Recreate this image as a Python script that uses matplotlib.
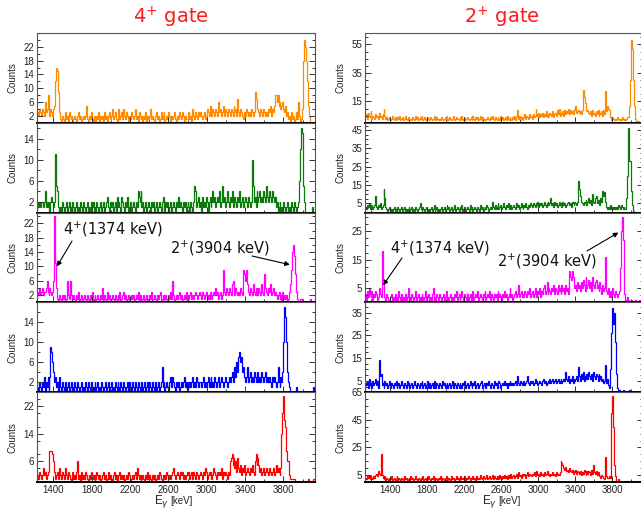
import numpy as np
import matplotlib
matplotlib.use('Agg')
import matplotlib.pyplot as plt
from matplotlib.ticker import MultipleLocator, FixedLocator

# ---------------- data (counts per 10 keV bin) ----------------
left_start, right_start, e_stop, bin_width = 1230, 1130, 4130, 10

L_orange = [3,2,4,3,2,4,3,2,6,3, 4,8,3,2,4,3,2,4,5,12, 16,15,9,3,1,0,2,1,0,3,
            1,2,0,3,2,1,2,0,1,2, 1,0,2,3,1,2,0,1,2,1, 2,5,1,0,2,1,3,1,0,2,
            1,0,2,1,3,0,2,1,2,0, 3,1,2,0,2,3,1,2,4,1, 2,3,1,0,2,4,1,2,3,1,
            4,2,1,3,2,0,2,1,3,2, 1,2,4,1,2,0,3,2,1,2, 0,2,1,3,0,2,1,2,4,1,
            2,1,0,2,3,1,2,0,1,3, 1,2,3,0,1,2,1,3,2,0, 2,1,2,3,1,0,2,1,3,2,
            1,3,2,0,2,1,1,2,3,1, 2,0,4,2,1,3,2,1,3,2, 3,2,1,2,3,1,2,4,3,2,
            5,3,2,4,3,2,4,3,2,6, 3,4,2,3,5,2,4,3,2,4, 3,2,4,3,2,5,3,4,2,7,
            3,2,4,3,2,1,3,2,4,3, 2,3,2,4,3,2,3,9,7,6, 4,3,2,4,3,2,4,3,2,3,
            2,4,3,5,2,4,3,5,8,8, 6,8,5,6,4,5,6,4,3,5, 2,3,1,2,0,3,1,2,0,1,
            3,1,6,2,0,1,4,9,18,24, 22,18,12,5,2,0,0,0,0,0]
L_green = [2,1,2,1,2,2,1,2,4,1, 2,1,2,0,2,3,2,1,2,11, 5,4,1,0,1,0,2,1,0,1,
           2,0,1,2,0,1,0,2,1,0, 1,2,0,1,0,2,1,0,2,1, 0,1,2,0,1,0,2,1,2,0,
           1,0,2,1,0,1,2,0,1,2, 0,1,2,3,1,0,2,1,2,0, 1,2,0,3,1,2,1,0,3,2,
           1,0,2,1,3,0,1,2,0,1, 2,1,0,2,1,4,3,2,4,1, 2,0,1,2,0,1,2,1,0,2,
           1,2,0,1,2,0,1,2,1,0, 2,3,1,0,2,1,2,0,1,2, 0,1,2,1,0,2,1,3,1,2,
           1,0,2,1,2,0,1,2,1,0, 2,1,0,2,5,4,1,2,3,1, 2,0,3,1,2,1,3,2,0,2,
           3,1,2,4,2,3,1,2,3,2, 4,1,2,5,2,3,1,2,4,2, 1,3,2,4,1,2,3,2,1,3,
           2,4,1,2,3,1,2,3,2,1, 3,2,1,2,10,5,2,3,1,4, 2,3,4,2,3,2,4,3,2,5,
           3,2,4,3,2,4,3,2,3,1, 2,0,1,2,0,1,0,2,1,0, 1,2,0,1,0,2,1,0,2,1,
           0,1,2,6,12,16,15,11,5,2, 0,0,0,0,0,0,0,1,0,0]
L_magenta = [3,2,4,2,3,4,2,3,3,4, 6,3,2,4,3,2,3,6,24,11, 4,1,0,2,1,0,2,1,2,0,
             1,6,2,1,6,2,0,1,2,1, 0,2,1,3,0,1,2,0,1,2, 1,0,2,1,0,2,1,3,0,1,
             2,0,1,2,1,0,2,1,4,0, 2,1,0,3,1,2,0,1,2,1, 0,2,1,0,2,1,3,0,1,2,
             3,1,2,0,1,2,0,1,2,1, 2,0,1,2,1,3,0,2,1,0, 1,2,0,1,2,0,1,2,1,3,
             0,1,2,1,0,2,1,2,3,0, 1,2,0,1,2,1,0,2,1,3, 1,6,2,0,1,2,1,2,3,1,
             2,0,1,2,1,3,0,2,1,2, 3,1,2,1,2,3,2,1,2,3, 2,1,3,2,1,2,3,1,2,1,
             3,2,1,2,3,2,4,2,3,1, 2,3,1,2,9,3,2,4,3,2, 4,3,2,5,6,3,2,4,3,2,
             3,2,4,3,2,9,8,6,9,5, 3,2,4,3,2,5,3,2,4,3, 2,4,3,2,5,3,2,8,4,3,
             2,4,3,5,2,3,4,2,3,2, 1,2,3,1,2,0,3,1,2,1, 2,0,1,3,5,9,14,16,13,8,
             3,1,0,0,1,1,0,0,0,0, 0,0,0,0,0,1,0,0,0,0]
L_blue = [1,0,2,1,0,2,1,3,0,2, 1,3,0,3,9,8,6,4,2,3, 1,2,0,3,1,0,2,1,0,2,
          0,1,2,0,1,2,0,1,0,2, 1,0,2,1,0,1,2,0,1,0, 2,1,0,2,1,0,2,1,0,1,
          2,0,1,2,0,1,0,2,1,0, 1,2,0,1,2,0,1,2,0,1, 0,2,1,0,2,1,0,2,1,0,
          2,1,0,1,2,0,2,1,0,2, 1,0,2,1,0,2,1,0,1,2, 0,1,2,0,1,2,0,2,1,0,
          2,1,0,2,0,1,2,0,1,2, 5,1,2,0,1,2,1,0,2,3, 1,3,2,1,0,2,1,2,0,1,
          2,1,2,3,1,2,0,2,1,2, 1,2,3,1,2,1,3,2,1,2, 2,1,2,3,1,2,1,2,3,1,
          2,3,1,2,1,3,2,1,2,3, 1,2,3,2,1,2,3,2,1,2, 3,2,3,4,2,4,5,3,6,4,
          7,8,6,7,4,5,3,2,3,5, 2,3,4,2,3,2,4,3,2,3, 4,2,3,2,4,3,2,3,4,2,
          3,2,3,2,1,3,2,3,2,1, 2,5,2,1,3,2,4,10,17,15, 10,4,2,1,0,0,0,0,0,0,
          1,0,0,0,0,0,0,0,0,0, 0,0,0,0,0,0,0,0,1,0]
L_red = [2,1,3,2,1,2,4,2,3,1, 2,3,7,9,9,9,8,6,3,1, 2,3,1,4,2,1,3,2,1,4,
         2,1,3,2,1,0,2,3,1,2, 1,3,6,1,2,0,3,1,2,1, 3,2,1,0,2,1,3,2,1,2,
         0,1,3,2,1,2,0,1,2,3, 1,2,0,1,3,1,2,1,0,2, 3,1,2,0,1,2,3,1,2,1,
         2,0,1,2,1,3,2,0,1,2, 1,2,3,1,4,2,1,2,0,1, 2,1,0,2,1,3,1,2,1,0,
         2,1,2,0,1,2,1,3,2,1, 0,2,1,2,1,3,2,1,2,1, 2,3,4,2,1,2,3,2,1,3,
         2,3,1,2,1,2,3,2,3,1, 2,3,1,3,2,1,3,2,1,2, 3,2,1,3,2,4,3,1,2,3,
         2,3,1,2,4,3,2,1,3,2, 3,2,4,1,3,2,3,2,1,3, 2,6,7,8,5,7,4,6,3,7,
         4,3,5,2,4,3,5,2,3,4, 3,2,4,3,5,3,2,6,8,5, 7,5,3,4,2,3,4,2,3,4,
         3,2,4,3,2,3,4,2,3,5, 3,4,3,2,4,14,20,25,18,16, 9,6,6,2,1,1,1,1,1,0,
         0,0,0,0,0,0,0,0,0,0, 0,0,0,1,0,0,0,0,1,1]

R_orange = [4,6,3,7,5,4,8,3,5,4, 3,6,4,5,3,7,4,5,3,6, 10,5,3,4,2,3,4,2,3,5,
            3,2,4,3,2,4,3,5,2,3, 4,2,3,5,3,2,4,3,2,3, 2,4,3,2,5,3,4,2,3,4,
            3,5,2,3,4,2,3,4,3,2, 4,3,2,3,5,3,2,4,3,2, 3,2,4,3,2,3,4,2,5,3,
            2,4,3,2,3,5,2,3,4,3, 3,2,4,3,5,2,3,4,2,3, 4,3,2,3,4,2,5,3,2,4,
            3,4,2,3,5,2,4,3,2,3, 2,3,4,3,2,4,3,5,3,2, 4,3,2,4,3,2,5,3,4,2,
            3,4,2,5,3,2,4,3,2,4, 3,5,2,4,9,3,5,2,4,3, 2,4,6,3,5,4,3,6,4,5,
            3,6,4,5,10,6,5,7,4,6, 5,7,4,6,5,8,4,6,5,7, 6,5,8,4,6,7,5,9,6,10,
            5,7,6,8,5,9,6,8,7,10, 6,9,7,8,6,10,9,12,7,8, 9,7,8,6,9,23,18,14,12,8,
            9,7,6,8,5,9,6,7,5,8, 6,9,5,7,6,8,5,9,6,22, 8,12,10,9,4,3,2,4,3,2,
            3,2,4,3,2,3,2,4,3,2, 3,2,3,4,4,12,30,58,52,30, 12,3,1,0,0,1,0,0,0,0]
R_green = [3,2,4,3,5,2,3,4,2,3, 4,9,3,2,4,3,5,2,3,4, 13,8,3,2,1,2,3,1,2,1,
           2,3,1,2,1,3,2,1,2,3, 1,2,3,1,2,1,2,3,1,2, 3,1,2,1,3,2,1,2,3,5,
           2,1,3,2,1,2,3,1,2,1, 2,3,1,2,4,1,2,3,1,2, 1,2,3,1,2,3,1,2,4,2,
           3,1,2,3,1,2,4,1,2,3, 2,1,3,2,4,1,2,3,1,2, 3,2,1,4,2,3,1,2,3,2,
           1,3,2,1,4,2,3,1,2,3, 2,4,3,1,2,3,2,6,3,2, 4,2,3,5,2,3,4,2,3,5,
           3,2,4,3,5,2,3,4,2,3, 4,3,2,5,3,4,2,3,5,3, 2,4,3,5,3,2,4,3,5,4,
           3,5,4,3,5,4,6,3,5,4, 5,3,4,6,4,3,5,6,4,5, 8,4,5,3,6,4,5,3,4,6,
           4,5,3,6,4,5,3,4,5,6, 4,5,3,6,5,4,6,5,4,6, 17,13,9,6,5,4,6,5,7,4,
           6,8,5,7,4,10,6,5,8,9, 5,7,6,4,8,6,12,9,11,6, 3,2,3,2,4,3,2,3,2,3,
           2,3,2,4,3,2,4,3,2,3, 2,2,8,20,46,28,28,12,4,1, 0,0,0,0,0,0,0,0,0,0]
R_magenta = [3,1,4,2,5,3,2,4,1,3, 2,4,3,1,2,5,3,2,18,8, 5,2,1,3,2,1,0,2,3,1,
             2,1,3,0,2,1,4,2,1,3, 1,2,0,3,1,2,5,1,2,1, 3,2,1,2,4,1,2,3,1,2,
             1,3,2,1,2,4,1,2,3,1, 2,1,3,5,1,2,1,3,2,1, 3,2,1,2,3,1,2,4,1,2,
             1,2,3,1,2,1,3,2,4,1, 2,3,1,2,4,2,1,3,2,1, 3,1,2,3,1,2,4,1,2,3,
             2,4,1,2,3,2,1,3,2,4, 1,2,3,2,4,1,3,2,1,3, 2,3,1,4,2,3,2,1,3,2,
             4,2,3,1,2,3,5,2,3,1, 2,3,4,2,3,6,2,3,4,2, 3,2,4,3,2,4,3,5,2,3,
             4,2,3,5,3,2,4,3,5,2, 4,3,5,6,3,4,7,3,5,4, 3,5,4,6,3,5,4,3,6,4,
             5,3,6,4,5,3,6,4,5,3, 11,9,8,11,9,8,5,6,4,7, 5,6,4,7,5,8,6,4,9,5,
             6,8,5,7,4,9,6,5,7,8, 5,6,4,7,5,3,6,4,5,16, 4,3,5,2,4,3,2,5,3,2,
             4,3,2,3,4,12,25,30,22,10, 3,1,0,2,1,0,0,1,0,0, 0,1,0,0,0,0,1,0,0,0]
R_blue = [4,3,5,2,6,3,4,2,5,3, 4,6,3,5,2,14,7,8,3,4, 2,5,3,4,2,3,5,2,4,3,
          2,4,3,5,2,3,4,2,3,5, 3,2,4,3,2,5,3,4,2,3, 4,2,3,5,3,2,4,3,2,4,
          3,5,2,3,4,2,3,5,2,4, 2,3,4,2,5,3,2,4,3,2, 4,3,2,5,3,4,2,3,4,2,
          3,4,2,3,5,2,4,3,2,4, 3,2,4,3,2,4,3,5,2,3, 4,2,3,5,3,2,4,3,5,2,
          3,4,2,3,4,5,2,3,4,3, 2,4,3,5,3,2,4,3,2,5, 3,4,2,3,5,4,2,3,4,3,
          5,3,4,2,4,3,5,4,3,4, 3,4,5,3,7,4,3,5,4,3, 4,5,3,4,5,7,4,3,5,4,
          5,3,4,6,4,5,3,4,5,4, 3,5,6,4,5,3,4,5,4,6, 4,5,6,4,5,6,4,5,6,4,
          5,6,4,5,6,5,9,6,5,7, 4,6,5,7,4,6,5,6,7,5, 11,7,5,8,6,9,5,7,6,8,
          6,9,7,6,8,5,9,7,6,8, 7,5,8,6,7,5,6,4,5,12, 4,6,3,2,10,20,26,37,30,35,
          22,8,2,0,1,0,0,0,1,0, 0,0,0,0,0,1,0,0,0,0, 0,0,0,0,0,0,0,0,0,0]
R_red = [3,2,4,3,5,2,4,3,2,4, 3,5,6,4,8,6,5,20,5,3, 2,4,1,3,2,1,3,2,4,1,
         2,3,1,2,4,1,3,2,1,3, 2,1,4,2,3,1,2,3,1,4, 2,3,1,2,4,2,1,3,2,1,
         3,2,4,1,2,3,1,2,4,2, 1,3,2,4,1,2,3,2,1,3, 2,4,1,3,2,1,3,4,2,1,
         3,2,1,4,2,3,1,2,4,2, 3,1,2,4,2,3,2,4,1,3, 2,4,3,1,3,2,4,2,3,1,
         4,2,3,2,5,3,2,4,3,2, 3,5,2,3,4,2,3,5,2,4, 3,2,4,3,2,5,3,2,4,3,
         5,3,4,2,5,3,4,6,3,4, 5,3,4,6,3,7,4,5,3,6, 4,5,6,3,5,7,4,6,5,4,
         6,5,7,4,6,8,5,6,4,7, 5,6,4,7,5,6,8,5,6,4, 6,5,7,5,6,4,7,5,6,5,
         7,15,14,12,10,9,11,8,9,7, 10,8,7,9,6,8,7,9,6,8, 7,6,8,5,7,6,9,7,5,8,
         6,8,7,5,9,6,12,7,6,8, 5,7,6,4,3,5,4,3,2,18, 4,3,3,4,3,20,50,62,40,12,
         4,1,0,2,1,0,1,0,0,1, 0,1,0,0,1,0,0,1,0,0, 0,0,1,0,0,0,1,0,0,1]

left_yticks = [[2, 6, 10, 14, 18, 22], [2, 6, 10, 14], [2, 6, 10, 14, 18, 22],
               [2, 6, 10, 14], [6, 14, 22]]
right_yticks = [[15, 35, 55], [5, 15, 25, 35, 45], [5, 15, 25],
                [5, 15, 25, 35], [5, 25, 45, 65]]
left_ytop = [26, 17, 25, 18, 26]
right_ytop = [63, 49, 31.5, 39.5, 65]
x_ticks = [1400, 1800, 2200, 2600, 3000, 3400, 3800]
colors = ['#ff8a00', '#0b7a0b', '#ff00ff', '#0000ff', '#ff0000']
titles = ['4$^{+}$ gate', '2$^{+}$ gate']

# ---------------- figure ----------------
W, H = 641, 509
fig = plt.figure(figsize=(W / 100, H / 100), dpi=100)
fig.patch.set_facecolor('white')

top_px, bot_px = 33, 482
row_h = (bot_px - top_px) / 5
col_x = [37, 365]
col_w = 278

left_edges = np.arange(left_start, e_stop + 1, bin_width)
right_edges = np.arange(right_start, e_stop + 1, bin_width)

series = [[L_orange, L_green, L_magenta, L_blue, L_red],
          [R_orange, R_green, R_magenta, R_blue, R_red]]
edges_all = [left_edges, right_edges]
yt_all = [left_yticks, right_yticks]
ytop_all = [left_ytop, right_ytop]

axes = [[None] * 5, [None] * 5]
tickfont = 'Liberation Sans'
for c in range(2):
    for r in range(5):
        y0 = top_px + r * row_h
        ax = fig.add_axes([col_x[c] / W, 1 - (y0 + row_h) / H, col_w / W, row_h / H])
        axes[c][r] = ax
        ax.stairs(series[c][r], edges_all[c], color=colors[r], lw=0.9)
        ax.set_xlim(edges_all[c][0], edges_all[c][-1])
        ax.set_ylim(0, ytop_all[c][r])
        yt = yt_all[c][r]
        ax.yaxis.set_major_locator(FixedLocator(yt))
        step = yt[1] - yt[0]
        ax.yaxis.set_minor_locator(MultipleLocator(step / 4 if c == 1 else step / 2))
        ax.xaxis.set_major_locator(FixedLocator(x_ticks))
        ax.xaxis.set_minor_locator(MultipleLocator(200))
        ax.tick_params(axis='both', which='both', direction='in', left=True, right=True,
                       bottom=True, top=False, colors='#333333', labelcolor='#222222',
                       labelsize=7, width=0.7)
        ax.tick_params(which='major', length=4)
        ax.tick_params(which='minor', length=2)
        ax.tick_params(axis='y', pad=2)
        for lab in ax.get_yticklabels() + ax.get_xticklabels():
            lab.set_fontfamily(tickfont)
        for s in ['left', 'right', 'top']:
            ax.spines[s].set_color('#555555')
            ax.spines[s].set_linewidth(0.8)
        ax.spines['bottom'].set_color('black')
        ax.spines['bottom'].set_linewidth(1.4)
        ax.set_ylabel('Counts', fontsize=7, family=tickfont, color='#222222')
        ax.yaxis.set_label_coords(-19 / col_w, 0.5)
        if r < 4:
            ax.tick_params(axis='x', labelbottom=False)
        else:
            ax.tick_params(axis='x', pad=2)

# titles
fig.text(171 / W, 1 - 17 / H, titles[0], color='#ff1a1a', fontsize=14,
         ha='center', va='center', family='DejaVu Sans')
fig.text(502 / W, 1 - 17 / H, titles[1], color='#ff1a1a', fontsize=14,
         ha='center', va='center', family='DejaVu Sans')

# x labels
for ex, kx in [(154, 170), (482, 498)]:
    fig.text(ex / W, 1 - 502 / H, r'E$_{\gamma}$', fontsize=8.5, family=tickfont,
             ha='left', va='center', color='#222222')
    fig.text(kx / W, 1 - 501.5 / H, '[keV]', fontsize=7, family=tickfont,
             ha='left', va='center', color='#222222')

# annotations
def note(ax, text, tx, ty, start, tip):
    fig.text(tx / W, 1 - ty / H, text, fontsize=10.5, family='DejaVu Sans',
             ha='left', va='center', color='#111111')
    ax.annotate('', xy=tip, xycoords='data',
                xytext=(start[0] / W, 1 - start[1] / H), textcoords='figure fraction',
                arrowprops=dict(arrowstyle='-|>', color='black', lw=0.8,
                                mutation_scale=7, shrinkA=0, shrinkB=0))

axL = axes[0][2]
axR = axes[1][2]
note(axL, '4$^{+}$(1374 keV)', 63, 229, (72, 241), (1438, 10))
note(axL, '2$^{+}$(3904 keV)', 170, 248, (252, 256), (3868, 10.5))
note(axR, '4$^{+}$(1374 keV)', 390, 248, (402, 258), (1325, 6))
note(axR, '2$^{+}$(3904 keV)', 497, 261, (587, 251), (3865, 24.5))

fig.savefig('out.png', dpi=100)
